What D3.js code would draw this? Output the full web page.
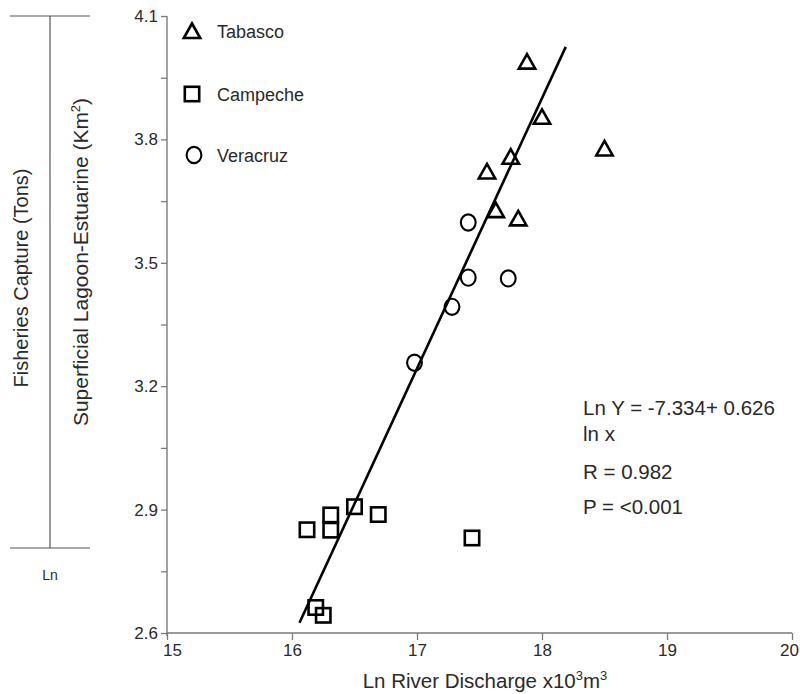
<!DOCTYPE html>
<html>
<head>
<meta charset="utf-8">
<script src="https://cdn.jsdelivr.net/npm/d3@7"></script>
<style>
  html, body { margin: 0; padding: 0; background: #fff; }
  svg { display: block; }
  text { font-family: Arial, "Liberation Sans", Helvetica, sans-serif; }
</style>
</head>
<body>
<svg id="chart" width="800" height="694"></svg>
<script>
// ---- data ----
const seriesNames = ["Tabasco", "Campeche", "Veracruz"];
const tabascoX = [17.88, 18.00, 18.50, 17.75, 17.56, 17.63, 17.81];
const tabascoY = [3.989, 3.855, 3.778, 3.758, 3.722, 3.628, 3.608];
const campecheX = [16.50, 16.31, 16.69, 16.12, 16.31, 17.44, 16.19, 16.25];
const campecheY = [2.907, 2.887, 2.888, 2.851, 2.850, 2.831, 2.662, 2.643];
const veracruzX = [17.41, 17.41, 17.73, 17.28, 16.98];
const veracruzY = [3.598, 3.464, 3.462, 3.393, 3.257];
const fitX = [16.06, 18.19];
const fitY = [2.625, 4.025];
const xTicks = [15, 16, 17, 18, 19, 20];
const yTicksMajor = [2.6, 2.9, 3.2, 3.5, 3.8, 4.1];
const yTicksMinor = [2.75, 3.05, 3.35, 3.65, 3.95];
const annotation = ["Ln Y = -7.334+ 0.626", "ln x", "R = 0.982", "P = <0.001"];

// ---- layout ----
const svg = d3.select("#chart");
const x = d3.scaleLinear().domain([15, 20]).range([167, 792]);
const y = d3.scaleLinear().domain([2.6, 4.1]).range([633, 16]);
const axisColor = "#7a7a7a";
const textColor = "#2a2a2a";

// y axis
const yAxisG = svg.append("g").attr("transform", `translate(${x(15)},0)`);
yAxisG.call(d3.axisLeft(y).tickValues(yTicksMajor.concat(yTicksMinor).sort())
  .tickSize(6).tickPadding(3)
  .tickFormat(d => yTicksMajor.some(v => Math.abs(v - d) < 1e-9) ? d3.format(".1f")(d) : ""));
yAxisG.select(".domain").attr("stroke", axisColor).attr("stroke-width", 1.4)
  .attr("d", `M0,${y(4.1)}V${y(2.6) + 3}`);
yAxisG.selectAll(".tick line").attr("stroke", axisColor).attr("stroke-width", 1.3);
yAxisG.selectAll(".tick text").attr("fill", textColor).attr("font-size", 17)
  .attr("font-family", "Arial, 'Liberation Sans', sans-serif");

// x axis
const xAxisG = svg.append("g").attr("transform", `translate(0,${y(2.6)})`);
xAxisG.call(d3.axisBottom(x).tickValues(xTicks).tickSize(7).tickPadding(4).tickFormat(d3.format("d")));
xAxisG.select(".domain").attr("stroke", axisColor).attr("stroke-width", 1.4)
  .attr("d", `M${x(15)},0H${x(20)}`);
xAxisG.selectAll(".tick line").attr("stroke", axisColor).attr("stroke-width", 1.3);
xAxisG.selectAll(".tick text").attr("fill", textColor).attr("font-size", 17)
  .attr("font-family", "Arial, 'Liberation Sans', sans-serif");
xAxisG.selectAll(".tick").filter(d => d === 15).select("text").attr("dx", 5);
xAxisG.selectAll(".tick").filter(d => d === 20).select("text").attr("dx", -3);

// x title
const xt = svg.append("text").attr("x", 485).attr("y", 688).attr("text-anchor", "middle")
  .attr("font-size", 20.5).attr("fill", textColor);
xt.append("tspan").text("Ln River Discharge x10");
xt.append("tspan").attr("font-size", 13).attr("dy", -8).text("3");
xt.append("tspan").attr("dy", 8).text("m");
xt.append("tspan").attr("font-size", 13).attr("dy", -8).text("3");

// y title (inner)
const yt = svg.append("text").attr("transform", "translate(88,262) rotate(-90)")
  .attr("text-anchor", "middle").attr("font-size", 21).attr("fill", textColor);
yt.append("tspan").text("Superficial Lagoon-Estuarine (Km");
yt.append("tspan").attr("font-size", 13).attr("dy", -8).text("2");
yt.append("tspan").attr("dy", 8).text(")");

// y title (outer) with bracket
svg.append("text").attr("transform", "translate(28,278) rotate(-90)")
  .attr("text-anchor", "middle").attr("font-size", 20).attr("fill", textColor)
  .text("Fisheries Capture (Tons)");
const bracket = svg.append("g").attr("stroke", "#555").attr("stroke-width", 1.2);
bracket.append("line").attr("x1", 50).attr("x2", 50).attr("y1", y(4.1)).attr("y2", 548);
bracket.append("line").attr("x1", 10).attr("x2", 90).attr("y1", y(4.1)).attr("y2", y(4.1));
bracket.append("line").attr("x1", 10).attr("x2", 90).attr("y1", 548).attr("y2", 548);
svg.append("text").attr("x", 50).attr("y", 580).attr("text-anchor", "middle")
  .attr("font-size", 14).attr("fill", textColor).text("Ln");

// regression line
svg.append("path")
  .datum(fitX.map((v, i) => [v, fitY[i]]))
  .attr("d", d3.line().x(d => x(d[0])).y(d => y(d[1])))
  .attr("stroke", "#000").attr("stroke-width", 2.6).attr("fill", "none");

// marker shapes
function triangle(g) {
  g.append("path").attr("d", "M0,-7.5L-8.2,7L8.2,7Z")
    .attr("fill", "none").attr("stroke", "#000").attr("stroke-width", 2.6);
}
function square(g) {
  g.append("rect").attr("x", -7.2).attr("y", -7.2).attr("width", 14.4).attr("height", 14.4)
    .attr("fill", "none").attr("stroke", "#000").attr("stroke-width", 2.6);
}
function ellipse(g) {
  g.append("ellipse").attr("rx", 7.4).attr("ry", 8.1)
    .attr("fill", "none").attr("stroke", "#000").attr("stroke-width", 2.1);
}
const drawers = { Tabasco: triangle, Campeche: square, Veracruz: ellipse };

function plotSeries(name, xs, ys) {
  const pts = xs.map((v, i) => ({ x: v, y: ys[i] }));
  svg.append("g").selectAll("g").data(pts).join("g")
    .attr("transform", d => `translate(${x(d.x)},${y(d.y)})`)
    .each(function () { drawers[name](d3.select(this)); });
}
plotSeries("Campeche", campecheX, campecheY);
plotSeries("Veracruz", veracruzX, veracruzY);
plotSeries("Tabasco", tabascoX, tabascoY);

// legend
const legendPos = [[192, 31], [192, 94], [194, 155]];
seriesNames.forEach((name, i) => {
  const g = svg.append("g").attr("transform", `translate(${legendPos[i][0]},${legendPos[i][1]})`);
  drawers[name](g);
  svg.append("text").attr("x", 217).attr("y", legendPos[i][1] + 6.5)
    .attr("font-size", 18).attr("fill", textColor).text(name);
});

// annotation
const annY = [408, 434, 472, 507];
annotation.forEach((t, i) => {
  svg.append("text").attr("x", 583).attr("y", annY[i] + 7)
    .attr("font-size", 20.5).attr("fill", textColor).text(t);
});
</script>
</body>
</html>
